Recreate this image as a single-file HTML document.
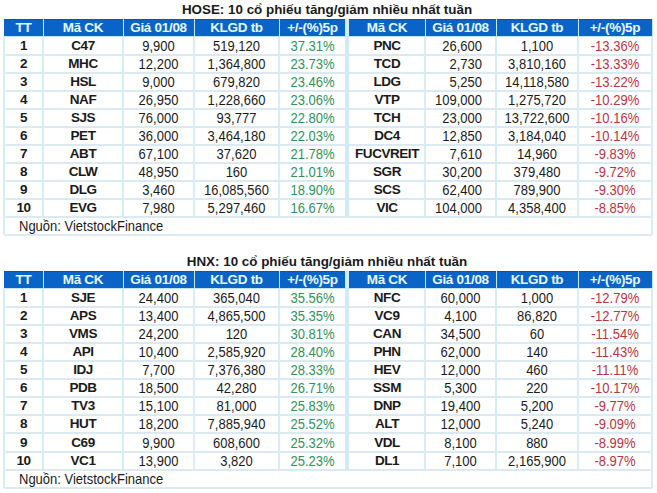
<!DOCTYPE html><html><head><meta charset="utf-8"><style>
html,body{margin:0;padding:0;background:#fff;width:657px;height:493px;overflow:hidden;position:relative;}
div{position:absolute;}
.t{height:0;white-space:nowrap;font-family:"Liberation Sans",sans-serif;}
.t span{position:absolute;left:0;right:0;bottom:-0.1535em;line-height:1;display:block;}
.ti{font-size:13.4px;font-weight:bold;color:#1a1a1a;}
.h{letter-spacing:-0.3px;font-size:13.5px;font-weight:bold;color:#e6f8ff;}
.b{letter-spacing:-0.45px;font-size:13.5px;font-weight:bold;color:#1a1a1a;}
.n{font-size:13px;color:#1a1a1a;}
.n span{transform:scaleY(1.09);transform-origin:50% 0.8465em;bottom:calc(-0.1535em - 0.4px);}
.b span{bottom:calc(-0.1535em - 0.0px);}
.ti span{left:-2px;}
.h span{}
.g{color:#2e925a;}
.r{color:#b8343f;}
</style></head><body><div class="t ti" style="left:4px;width:648px;top:14.6px;text-align:center;"><span style="">HOSE: 10 cổ phiếu tăng/giảm nhiều nhất tuần</span></div>
<div style="left:4px;top:19px;width:648px;height:17px;background:#0a64c8;"></div>
<div style="left:4px;top:19px;width:648px;height:1px;background:#0556b0;"></div>
<div style="left:43px;top:19px;width:1px;height:17px;background:#bfeaff;"></div>
<div style="left:123px;top:19px;width:1px;height:17px;background:#bfeaff;"></div>
<div style="left:194px;top:19px;width:1px;height:17px;background:#bfeaff;"></div>
<div style="left:279px;top:19px;width:1px;height:17px;background:#bfeaff;"></div>
<div style="left:425px;top:19px;width:1px;height:17px;background:#bfeaff;"></div>
<div style="left:496px;top:19px;width:1px;height:17px;background:#bfeaff;"></div>
<div style="left:578px;top:19px;width:1px;height:17px;background:#bfeaff;"></div>
<div style="left:345px;top:19px;width:4px;height:17px;background:#cdeefc;"></div>
<div style="left:652px;top:19px;width:1px;height:17px;background:#c4e6f6;"></div>
<div class="t h" style="left:4px;width:39px;top:32.4px;text-align:center;"><span style="">TT</span></div>
<div class="t h" style="left:43px;width:80px;top:32.4px;text-align:center;"><span style="">Mã CK</span></div>
<div class="t h" style="left:123px;width:71px;top:32.4px;text-align:center;"><span style="">Giá 01/08</span></div>
<div class="t h" style="left:194px;width:85px;top:32.4px;text-align:center;"><span style="">KLGD tb</span></div>
<div class="t h" style="left:279px;width:67px;top:32.4px;text-align:center;"><span style="">+/-(%)5p</span></div>
<div class="t h" style="left:349px;width:76px;top:32.4px;text-align:center;"><span style="">Mã CK</span></div>
<div class="t h" style="left:425px;width:71px;top:32.4px;text-align:center;"><span style="">Giá 01/08</span></div>
<div class="t h" style="left:496px;width:82px;top:32.4px;text-align:center;"><span style="">KLGD tb</span></div>
<div class="t h" style="left:578px;width:74px;top:32.4px;text-align:center;"><span style="">+/-(%)5p</span></div>
<div style="left:4px;top:36px;width:649px;height:1px;background:#bfe6f6;"></div>
<div style="left:4px;top:54px;width:648px;height:2px;background:#dae9f2;"></div>
<div style="left:4px;top:72px;width:648px;height:2px;background:#dae9f2;"></div>
<div style="left:4px;top:90px;width:648px;height:2px;background:#dae9f2;"></div>
<div style="left:4px;top:108px;width:648px;height:2px;background:#dae9f2;"></div>
<div style="left:4px;top:126px;width:648px;height:2px;background:#dae9f2;"></div>
<div style="left:4px;top:144px;width:648px;height:2px;background:#dae9f2;"></div>
<div style="left:4px;top:162px;width:648px;height:2px;background:#dae9f2;"></div>
<div style="left:4px;top:180px;width:648px;height:2px;background:#dae9f2;"></div>
<div style="left:4px;top:198px;width:648px;height:2px;background:#dae9f2;"></div>
<div style="left:4px;top:216px;width:648px;height:2px;background:#dae9f2;"></div>
<div style="left:4px;top:234px;width:648px;height:2px;background:#dae9f2;"></div>
<div style="left:42px;top:37px;width:2px;height:179px;background:#d6edf8;"></div>
<div style="left:122px;top:37px;width:2px;height:179px;background:#d6edf8;"></div>
<div style="left:193px;top:37px;width:2px;height:179px;background:#d6edf8;"></div>
<div style="left:278px;top:37px;width:2px;height:179px;background:#d6edf8;"></div>
<div style="left:424px;top:37px;width:2px;height:179px;background:#d6edf8;"></div>
<div style="left:495px;top:37px;width:2px;height:179px;background:#d6edf8;"></div>
<div style="left:577px;top:37px;width:2px;height:179px;background:#d6edf8;"></div>
<div style="left:3px;top:36px;width:2px;height:199px;background:#d6edf8;"></div>
<div style="left:651px;top:36px;width:2px;height:199px;background:#d6edf8;"></div>
<div style="left:345px;top:37px;width:4px;height:179px;background:#d2eaf6;"></div>
<div class="t b" style="left:4px;width:39px;top:50.7px;text-align:center;"><span style="">1</span></div>
<div class="t b" style="left:43px;width:80px;top:50.7px;text-align:center;"><span style="">C47</span></div>
<div class="t n" style="left:123px;width:71px;top:50.7px;text-align:center;"><span style="">9,900</span></div>
<div class="t n" style="left:194px;width:85px;top:50.7px;text-align:center;"><span style="">519,120</span></div>
<div class="t n g" style="left:279px;width:67px;top:50.7px;text-align:center;"><span style="">37.31%</span></div>
<div class="t b" style="left:349px;width:76px;top:50.7px;text-align:center;"><span style="">PNC</span></div>
<div class="t n" style="left:425px;width:71px;top:50.7px;text-align:right;"><span style="right:14px;">26,600</span></div>
<div class="t n" style="left:496px;width:82px;top:50.7px;text-align:center;"><span style="">1,100</span></div>
<div class="t n r" style="left:578px;width:74px;top:50.7px;text-align:center;"><span style="">-13.36%</span></div>
<div class="t b" style="left:4px;width:39px;top:68.7px;text-align:center;"><span style="">2</span></div>
<div class="t b" style="left:43px;width:80px;top:68.7px;text-align:center;"><span style="">MHC</span></div>
<div class="t n" style="left:123px;width:71px;top:68.7px;text-align:center;"><span style="">12,200</span></div>
<div class="t n" style="left:194px;width:85px;top:68.7px;text-align:center;"><span style="">1,364,800</span></div>
<div class="t n g" style="left:279px;width:67px;top:68.7px;text-align:center;"><span style="">23.73%</span></div>
<div class="t b" style="left:349px;width:76px;top:68.7px;text-align:center;"><span style="">TCD</span></div>
<div class="t n" style="left:425px;width:71px;top:68.7px;text-align:right;"><span style="right:14px;">2,730</span></div>
<div class="t n" style="left:496px;width:82px;top:68.7px;text-align:center;"><span style="">3,810,160</span></div>
<div class="t n r" style="left:578px;width:74px;top:68.7px;text-align:center;"><span style="">-13.33%</span></div>
<div class="t b" style="left:4px;width:39px;top:86.7px;text-align:center;"><span style="">3</span></div>
<div class="t b" style="left:43px;width:80px;top:86.7px;text-align:center;"><span style="">HSL</span></div>
<div class="t n" style="left:123px;width:71px;top:86.7px;text-align:center;"><span style="">9,000</span></div>
<div class="t n" style="left:194px;width:85px;top:86.7px;text-align:center;"><span style="">679,820</span></div>
<div class="t n g" style="left:279px;width:67px;top:86.7px;text-align:center;"><span style="">23.46%</span></div>
<div class="t b" style="left:349px;width:76px;top:86.7px;text-align:center;"><span style="">LDG</span></div>
<div class="t n" style="left:425px;width:71px;top:86.7px;text-align:right;"><span style="right:14px;">5,250</span></div>
<div class="t n" style="left:496px;width:82px;top:86.7px;text-align:center;"><span style="">14,118,580</span></div>
<div class="t n r" style="left:578px;width:74px;top:86.7px;text-align:center;"><span style="">-13.22%</span></div>
<div class="t b" style="left:4px;width:39px;top:104.7px;text-align:center;"><span style="">4</span></div>
<div class="t b" style="left:43px;width:80px;top:104.7px;text-align:center;"><span style="">NAF</span></div>
<div class="t n" style="left:123px;width:71px;top:104.7px;text-align:center;"><span style="">26,950</span></div>
<div class="t n" style="left:194px;width:85px;top:104.7px;text-align:center;"><span style="">1,228,660</span></div>
<div class="t n g" style="left:279px;width:67px;top:104.7px;text-align:center;"><span style="">23.06%</span></div>
<div class="t b" style="left:349px;width:76px;top:104.7px;text-align:center;"><span style="">VTP</span></div>
<div class="t n" style="left:425px;width:71px;top:104.7px;text-align:right;"><span style="right:14px;">109,000</span></div>
<div class="t n" style="left:496px;width:82px;top:104.7px;text-align:center;"><span style="">1,275,720</span></div>
<div class="t n r" style="left:578px;width:74px;top:104.7px;text-align:center;"><span style="">-10.29%</span></div>
<div class="t b" style="left:4px;width:39px;top:122.7px;text-align:center;"><span style="">5</span></div>
<div class="t b" style="left:43px;width:80px;top:122.7px;text-align:center;"><span style="">SJS</span></div>
<div class="t n" style="left:123px;width:71px;top:122.7px;text-align:center;"><span style="">76,000</span></div>
<div class="t n" style="left:194px;width:85px;top:122.7px;text-align:center;"><span style="">93,777</span></div>
<div class="t n g" style="left:279px;width:67px;top:122.7px;text-align:center;"><span style="">22.80%</span></div>
<div class="t b" style="left:349px;width:76px;top:122.7px;text-align:center;"><span style="">TCH</span></div>
<div class="t n" style="left:425px;width:71px;top:122.7px;text-align:right;"><span style="right:14px;">23,000</span></div>
<div class="t n" style="left:496px;width:82px;top:122.7px;text-align:center;"><span style="">13,722,600</span></div>
<div class="t n r" style="left:578px;width:74px;top:122.7px;text-align:center;"><span style="">-10.16%</span></div>
<div class="t b" style="left:4px;width:39px;top:140.7px;text-align:center;"><span style="">6</span></div>
<div class="t b" style="left:43px;width:80px;top:140.7px;text-align:center;"><span style="">PET</span></div>
<div class="t n" style="left:123px;width:71px;top:140.7px;text-align:center;"><span style="">36,000</span></div>
<div class="t n" style="left:194px;width:85px;top:140.7px;text-align:center;"><span style="">3,464,180</span></div>
<div class="t n g" style="left:279px;width:67px;top:140.7px;text-align:center;"><span style="">22.03%</span></div>
<div class="t b" style="left:349px;width:76px;top:140.7px;text-align:center;"><span style="">DC4</span></div>
<div class="t n" style="left:425px;width:71px;top:140.7px;text-align:right;"><span style="right:14px;">12,850</span></div>
<div class="t n" style="left:496px;width:82px;top:140.7px;text-align:center;"><span style="">3,184,040</span></div>
<div class="t n r" style="left:578px;width:74px;top:140.7px;text-align:center;"><span style="">-10.14%</span></div>
<div class="t b" style="left:4px;width:39px;top:158.7px;text-align:center;"><span style="">7</span></div>
<div class="t b" style="left:43px;width:80px;top:158.7px;text-align:center;"><span style="">ABT</span></div>
<div class="t n" style="left:123px;width:71px;top:158.7px;text-align:center;"><span style="">67,100</span></div>
<div class="t n" style="left:194px;width:85px;top:158.7px;text-align:center;"><span style="">37,620</span></div>
<div class="t n g" style="left:279px;width:67px;top:158.7px;text-align:center;"><span style="">21.78%</span></div>
<div class="t b" style="left:349px;width:76px;top:158.7px;text-align:center;"><span style="">FUCVREIT</span></div>
<div class="t n" style="left:425px;width:71px;top:158.7px;text-align:right;"><span style="right:14px;">7,610</span></div>
<div class="t n" style="left:496px;width:82px;top:158.7px;text-align:center;"><span style="">14,960</span></div>
<div class="t n r" style="left:578px;width:74px;top:158.7px;text-align:center;"><span style="">-9.83%</span></div>
<div class="t b" style="left:4px;width:39px;top:176.7px;text-align:center;"><span style="">8</span></div>
<div class="t b" style="left:43px;width:80px;top:176.7px;text-align:center;"><span style="">CLW</span></div>
<div class="t n" style="left:123px;width:71px;top:176.7px;text-align:center;"><span style="">48,950</span></div>
<div class="t n" style="left:194px;width:85px;top:176.7px;text-align:center;"><span style="">160</span></div>
<div class="t n g" style="left:279px;width:67px;top:176.7px;text-align:center;"><span style="">21.01%</span></div>
<div class="t b" style="left:349px;width:76px;top:176.7px;text-align:center;"><span style="">SGR</span></div>
<div class="t n" style="left:425px;width:71px;top:176.7px;text-align:right;"><span style="right:14px;">30,200</span></div>
<div class="t n" style="left:496px;width:82px;top:176.7px;text-align:center;"><span style="">379,480</span></div>
<div class="t n r" style="left:578px;width:74px;top:176.7px;text-align:center;"><span style="">-9.72%</span></div>
<div class="t b" style="left:4px;width:39px;top:194.7px;text-align:center;"><span style="">9</span></div>
<div class="t b" style="left:43px;width:80px;top:194.7px;text-align:center;"><span style="">DLG</span></div>
<div class="t n" style="left:123px;width:71px;top:194.7px;text-align:center;"><span style="">3,460</span></div>
<div class="t n" style="left:194px;width:85px;top:194.7px;text-align:center;"><span style="">16,085,560</span></div>
<div class="t n g" style="left:279px;width:67px;top:194.7px;text-align:center;"><span style="">18.90%</span></div>
<div class="t b" style="left:349px;width:76px;top:194.7px;text-align:center;"><span style="">SCS</span></div>
<div class="t n" style="left:425px;width:71px;top:194.7px;text-align:right;"><span style="right:14px;">62,400</span></div>
<div class="t n" style="left:496px;width:82px;top:194.7px;text-align:center;"><span style="">789,900</span></div>
<div class="t n r" style="left:578px;width:74px;top:194.7px;text-align:center;"><span style="">-9.30%</span></div>
<div class="t b" style="left:4px;width:39px;top:212.7px;text-align:center;"><span style="">10</span></div>
<div class="t b" style="left:43px;width:80px;top:212.7px;text-align:center;"><span style="">EVG</span></div>
<div class="t n" style="left:123px;width:71px;top:212.7px;text-align:center;"><span style="">7,980</span></div>
<div class="t n" style="left:194px;width:85px;top:212.7px;text-align:center;"><span style="">5,297,460</span></div>
<div class="t n g" style="left:279px;width:67px;top:212.7px;text-align:center;"><span style="">16.67%</span></div>
<div class="t b" style="left:349px;width:76px;top:212.7px;text-align:center;"><span style="">VIC</span></div>
<div class="t n" style="left:425px;width:71px;top:212.7px;text-align:right;"><span style="right:14px;">104,000</span></div>
<div class="t n" style="left:496px;width:82px;top:212.7px;text-align:center;"><span style="">4,358,400</span></div>
<div class="t n r" style="left:578px;width:74px;top:212.7px;text-align:center;"><span style="">-8.85%</span></div>
<div class="t n" style="left:4px;width:648px;top:230.7px;text-align:left;"><span style="left:15px;">Nguồn: VietstockFinance</span></div>
<div class="t ti" style="left:4px;width:648px;top:266.6px;text-align:center;"><span style="">HNX: 10 cổ phiếu tăng/giảm nhiều nhất tuần</span></div>
<div style="left:4px;top:271px;width:648px;height:17px;background:#0a64c8;"></div>
<div style="left:4px;top:271px;width:648px;height:1px;background:#0556b0;"></div>
<div style="left:43px;top:271px;width:1px;height:17px;background:#bfeaff;"></div>
<div style="left:123px;top:271px;width:1px;height:17px;background:#bfeaff;"></div>
<div style="left:194px;top:271px;width:1px;height:17px;background:#bfeaff;"></div>
<div style="left:279px;top:271px;width:1px;height:17px;background:#bfeaff;"></div>
<div style="left:425px;top:271px;width:1px;height:17px;background:#bfeaff;"></div>
<div style="left:496px;top:271px;width:1px;height:17px;background:#bfeaff;"></div>
<div style="left:578px;top:271px;width:1px;height:17px;background:#bfeaff;"></div>
<div style="left:345px;top:271px;width:4px;height:17px;background:#cdeefc;"></div>
<div style="left:652px;top:271px;width:1px;height:17px;background:#c4e6f6;"></div>
<div class="t h" style="left:4px;width:39px;top:284.4px;text-align:center;"><span style="">TT</span></div>
<div class="t h" style="left:43px;width:80px;top:284.4px;text-align:center;"><span style="">Mã CK</span></div>
<div class="t h" style="left:123px;width:71px;top:284.4px;text-align:center;"><span style="">Giá 01/08</span></div>
<div class="t h" style="left:194px;width:85px;top:284.4px;text-align:center;"><span style="">KLGD tb</span></div>
<div class="t h" style="left:279px;width:67px;top:284.4px;text-align:center;"><span style="">+/-(%)5p</span></div>
<div class="t h" style="left:349px;width:76px;top:284.4px;text-align:center;"><span style="">Mã CK</span></div>
<div class="t h" style="left:425px;width:71px;top:284.4px;text-align:center;"><span style="">Giá 01/08</span></div>
<div class="t h" style="left:496px;width:82px;top:284.4px;text-align:center;"><span style="">KLGD tb</span></div>
<div class="t h" style="left:578px;width:74px;top:284.4px;text-align:center;"><span style="">+/-(%)5p</span></div>
<div style="left:4px;top:288px;width:649px;height:1px;background:#bfe6f6;"></div>
<div style="left:4px;top:306px;width:648px;height:2px;background:#dae9f2;"></div>
<div style="left:4px;top:324px;width:648px;height:2px;background:#dae9f2;"></div>
<div style="left:4px;top:342px;width:648px;height:2px;background:#dae9f2;"></div>
<div style="left:4px;top:360px;width:648px;height:2px;background:#dae9f2;"></div>
<div style="left:4px;top:378px;width:648px;height:2px;background:#dae9f2;"></div>
<div style="left:4px;top:396px;width:648px;height:2px;background:#dae9f2;"></div>
<div style="left:4px;top:414px;width:648px;height:2px;background:#dae9f2;"></div>
<div style="left:4px;top:432px;width:648px;height:2px;background:#dae9f2;"></div>
<div style="left:4px;top:451px;width:648px;height:2px;background:#dae9f2;"></div>
<div style="left:4px;top:469px;width:648px;height:2px;background:#dae9f2;"></div>
<div style="left:4px;top:487px;width:648px;height:2px;background:#dae9f2;"></div>
<div style="left:42px;top:289px;width:2px;height:180px;background:#d6edf8;"></div>
<div style="left:122px;top:289px;width:2px;height:180px;background:#d6edf8;"></div>
<div style="left:193px;top:289px;width:2px;height:180px;background:#d6edf8;"></div>
<div style="left:278px;top:289px;width:2px;height:180px;background:#d6edf8;"></div>
<div style="left:424px;top:289px;width:2px;height:180px;background:#d6edf8;"></div>
<div style="left:495px;top:289px;width:2px;height:180px;background:#d6edf8;"></div>
<div style="left:577px;top:289px;width:2px;height:180px;background:#d6edf8;"></div>
<div style="left:3px;top:288px;width:2px;height:200px;background:#d6edf8;"></div>
<div style="left:651px;top:288px;width:2px;height:200px;background:#d6edf8;"></div>
<div style="left:345px;top:289px;width:4px;height:180px;background:#d2eaf6;"></div>
<div class="t b" style="left:4px;width:39px;top:302.7px;text-align:center;"><span style="">1</span></div>
<div class="t b" style="left:43px;width:80px;top:302.7px;text-align:center;"><span style="">SJE</span></div>
<div class="t n" style="left:123px;width:71px;top:302.7px;text-align:center;"><span style="">24,400</span></div>
<div class="t n" style="left:194px;width:85px;top:302.7px;text-align:center;"><span style="">365,040</span></div>
<div class="t n g" style="left:279px;width:67px;top:302.7px;text-align:center;"><span style="">35.56%</span></div>
<div class="t b" style="left:349px;width:76px;top:302.7px;text-align:center;"><span style="">NFC</span></div>
<div class="t n" style="left:425px;width:71px;top:302.7px;text-align:center;"><span style="">60,000</span></div>
<div class="t n" style="left:496px;width:82px;top:302.7px;text-align:center;"><span style="">1,000</span></div>
<div class="t n r" style="left:578px;width:74px;top:302.7px;text-align:center;"><span style="">-12.79%</span></div>
<div class="t b" style="left:4px;width:39px;top:320.7px;text-align:center;"><span style="">2</span></div>
<div class="t b" style="left:43px;width:80px;top:320.7px;text-align:center;"><span style="">APS</span></div>
<div class="t n" style="left:123px;width:71px;top:320.7px;text-align:center;"><span style="">13,400</span></div>
<div class="t n" style="left:194px;width:85px;top:320.7px;text-align:center;"><span style="">4,865,500</span></div>
<div class="t n g" style="left:279px;width:67px;top:320.7px;text-align:center;"><span style="">35.35%</span></div>
<div class="t b" style="left:349px;width:76px;top:320.7px;text-align:center;"><span style="">VC9</span></div>
<div class="t n" style="left:425px;width:71px;top:320.7px;text-align:center;"><span style="">4,100</span></div>
<div class="t n" style="left:496px;width:82px;top:320.7px;text-align:center;"><span style="">86,820</span></div>
<div class="t n r" style="left:578px;width:74px;top:320.7px;text-align:center;"><span style="">-12.77%</span></div>
<div class="t b" style="left:4px;width:39px;top:338.7px;text-align:center;"><span style="">3</span></div>
<div class="t b" style="left:43px;width:80px;top:338.7px;text-align:center;"><span style="">VMS</span></div>
<div class="t n" style="left:123px;width:71px;top:338.7px;text-align:center;"><span style="">24,200</span></div>
<div class="t n" style="left:194px;width:85px;top:338.7px;text-align:center;"><span style="">120</span></div>
<div class="t n g" style="left:279px;width:67px;top:338.7px;text-align:center;"><span style="">30.81%</span></div>
<div class="t b" style="left:349px;width:76px;top:338.7px;text-align:center;"><span style="">CAN</span></div>
<div class="t n" style="left:425px;width:71px;top:338.7px;text-align:center;"><span style="">34,500</span></div>
<div class="t n" style="left:496px;width:82px;top:338.7px;text-align:center;"><span style="">60</span></div>
<div class="t n r" style="left:578px;width:74px;top:338.7px;text-align:center;"><span style="">-11.54%</span></div>
<div class="t b" style="left:4px;width:39px;top:356.7px;text-align:center;"><span style="">4</span></div>
<div class="t b" style="left:43px;width:80px;top:356.7px;text-align:center;"><span style="">API</span></div>
<div class="t n" style="left:123px;width:71px;top:356.7px;text-align:center;"><span style="">10,400</span></div>
<div class="t n" style="left:194px;width:85px;top:356.7px;text-align:center;"><span style="">2,585,920</span></div>
<div class="t n g" style="left:279px;width:67px;top:356.7px;text-align:center;"><span style="">28.40%</span></div>
<div class="t b" style="left:349px;width:76px;top:356.7px;text-align:center;"><span style="">PHN</span></div>
<div class="t n" style="left:425px;width:71px;top:356.7px;text-align:center;"><span style="">62,000</span></div>
<div class="t n" style="left:496px;width:82px;top:356.7px;text-align:center;"><span style="">140</span></div>
<div class="t n r" style="left:578px;width:74px;top:356.7px;text-align:center;"><span style="">-11.43%</span></div>
<div class="t b" style="left:4px;width:39px;top:374.7px;text-align:center;"><span style="">5</span></div>
<div class="t b" style="left:43px;width:80px;top:374.7px;text-align:center;"><span style="">IDJ</span></div>
<div class="t n" style="left:123px;width:71px;top:374.7px;text-align:center;"><span style="">7,700</span></div>
<div class="t n" style="left:194px;width:85px;top:374.7px;text-align:center;"><span style="">7,376,380</span></div>
<div class="t n g" style="left:279px;width:67px;top:374.7px;text-align:center;"><span style="">28.33%</span></div>
<div class="t b" style="left:349px;width:76px;top:374.7px;text-align:center;"><span style="">HEV</span></div>
<div class="t n" style="left:425px;width:71px;top:374.7px;text-align:center;"><span style="">12,000</span></div>
<div class="t n" style="left:496px;width:82px;top:374.7px;text-align:center;"><span style="">460</span></div>
<div class="t n r" style="left:578px;width:74px;top:374.7px;text-align:center;"><span style="">-11.11%</span></div>
<div class="t b" style="left:4px;width:39px;top:392.7px;text-align:center;"><span style="">6</span></div>
<div class="t b" style="left:43px;width:80px;top:392.7px;text-align:center;"><span style="">PDB</span></div>
<div class="t n" style="left:123px;width:71px;top:392.7px;text-align:center;"><span style="">18,500</span></div>
<div class="t n" style="left:194px;width:85px;top:392.7px;text-align:center;"><span style="">42,280</span></div>
<div class="t n g" style="left:279px;width:67px;top:392.7px;text-align:center;"><span style="">26.71%</span></div>
<div class="t b" style="left:349px;width:76px;top:392.7px;text-align:center;"><span style="">SSM</span></div>
<div class="t n" style="left:425px;width:71px;top:392.7px;text-align:center;"><span style="">5,300</span></div>
<div class="t n" style="left:496px;width:82px;top:392.7px;text-align:center;"><span style="">220</span></div>
<div class="t n r" style="left:578px;width:74px;top:392.7px;text-align:center;"><span style="">-10.17%</span></div>
<div class="t b" style="left:4px;width:39px;top:410.7px;text-align:center;"><span style="">7</span></div>
<div class="t b" style="left:43px;width:80px;top:410.7px;text-align:center;"><span style="">TV3</span></div>
<div class="t n" style="left:123px;width:71px;top:410.7px;text-align:center;"><span style="">15,100</span></div>
<div class="t n" style="left:194px;width:85px;top:410.7px;text-align:center;"><span style="">81,000</span></div>
<div class="t n g" style="left:279px;width:67px;top:410.7px;text-align:center;"><span style="">25.83%</span></div>
<div class="t b" style="left:349px;width:76px;top:410.7px;text-align:center;"><span style="">DNP</span></div>
<div class="t n" style="left:425px;width:71px;top:410.7px;text-align:center;"><span style="">19,400</span></div>
<div class="t n" style="left:496px;width:82px;top:410.7px;text-align:center;"><span style="">5,200</span></div>
<div class="t n r" style="left:578px;width:74px;top:410.7px;text-align:center;"><span style="">-9.77%</span></div>
<div class="t b" style="left:4px;width:39px;top:428.7px;text-align:center;"><span style="">8</span></div>
<div class="t b" style="left:43px;width:80px;top:428.7px;text-align:center;"><span style="">HUT</span></div>
<div class="t n" style="left:123px;width:71px;top:428.7px;text-align:center;"><span style="">18,200</span></div>
<div class="t n" style="left:194px;width:85px;top:428.7px;text-align:center;"><span style="">7,885,940</span></div>
<div class="t n g" style="left:279px;width:67px;top:428.7px;text-align:center;"><span style="">25.52%</span></div>
<div class="t b" style="left:349px;width:76px;top:428.7px;text-align:center;"><span style="">ALT</span></div>
<div class="t n" style="left:425px;width:71px;top:428.7px;text-align:center;"><span style="">12,000</span></div>
<div class="t n" style="left:496px;width:82px;top:428.7px;text-align:center;"><span style="">5,240</span></div>
<div class="t n r" style="left:578px;width:74px;top:428.7px;text-align:center;"><span style="">-9.09%</span></div>
<div class="t b" style="left:4px;width:39px;top:447.2px;text-align:center;"><span style="">9</span></div>
<div class="t b" style="left:43px;width:80px;top:447.2px;text-align:center;"><span style="">C69</span></div>
<div class="t n" style="left:123px;width:71px;top:447.2px;text-align:center;"><span style="">9,900</span></div>
<div class="t n" style="left:194px;width:85px;top:447.2px;text-align:center;"><span style="">608,600</span></div>
<div class="t n g" style="left:279px;width:67px;top:447.2px;text-align:center;"><span style="">25.32%</span></div>
<div class="t b" style="left:349px;width:76px;top:447.2px;text-align:center;"><span style="">VDL</span></div>
<div class="t n" style="left:425px;width:71px;top:447.2px;text-align:center;"><span style="">8,100</span></div>
<div class="t n" style="left:496px;width:82px;top:447.2px;text-align:center;"><span style="">880</span></div>
<div class="t n r" style="left:578px;width:74px;top:447.2px;text-align:center;"><span style="">-8.99%</span></div>
<div class="t b" style="left:4px;width:39px;top:465.7px;text-align:center;"><span style="">10</span></div>
<div class="t b" style="left:43px;width:80px;top:465.7px;text-align:center;"><span style="">VC1</span></div>
<div class="t n" style="left:123px;width:71px;top:465.7px;text-align:center;"><span style="">13,900</span></div>
<div class="t n" style="left:194px;width:85px;top:465.7px;text-align:center;"><span style="">3,820</span></div>
<div class="t n g" style="left:279px;width:67px;top:465.7px;text-align:center;"><span style="">25.23%</span></div>
<div class="t b" style="left:349px;width:76px;top:465.7px;text-align:center;"><span style="">DL1</span></div>
<div class="t n" style="left:425px;width:71px;top:465.7px;text-align:center;"><span style="">7,100</span></div>
<div class="t n" style="left:496px;width:82px;top:465.7px;text-align:center;"><span style="">2,165,900</span></div>
<div class="t n r" style="left:578px;width:74px;top:465.7px;text-align:center;"><span style="">-8.97%</span></div>
<div class="t n" style="left:4px;width:648px;top:483.7px;text-align:left;"><span style="left:15px;">Nguồn: VietstockFinance</span></div></body></html>
